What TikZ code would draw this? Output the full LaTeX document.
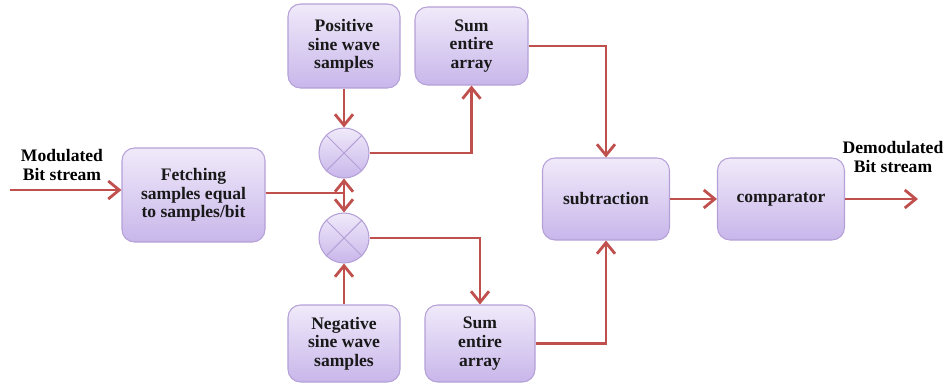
\documentclass[tikz,border=0pt]{standalone}
\usepackage{fontspec}
\setmainfont{Liberation Serif}
\usetikzlibrary{arrows.meta,positioning,calc}

\definecolor{boxtop}{RGB}{240,234,250}
\definecolor{boxbot}{RGB}{200,182,234}
\definecolor{boxline}{RGB}{180,160,215}
\definecolor{wire}{RGB}{192,80,77}

\begin{document}
\begin{tikzpicture}[font=\bfseries\fontsize{10}{10.6}\selectfont]
  \tikzstyle{block}=[draw=boxline, line width=0.6pt, rounded corners=0.25cm,
    top color=boxtop, bottom color=boxbot, align=center, text=black!90]
  \tikzstyle{mixer}=[draw=boxline, line width=0.6pt, circle, minimum size=1cm,
    top color=boxtop, bottom color=boxbot]
  \tikzstyle{wire}=[draw=wire, line width=1.6pt]
  \tikzstyle{flow}=[wire, -{Straight Barb[length=2.2mm,width=3.6mm]}]

  \useasboundingbox (0,0) rectangle (19.02,-7.7);

  \node[block, minimum width=2.86cm, minimum height=1.88cm] (fetch) at (3.87,-3.9)
    {Fetching\\samples equal\\to samples/bit};
  \node[block, minimum width=2.24cm, minimum height=1.68cm] (pos) at (6.88,-0.92)
    {Positive\\sine wave\\samples};
  \node[block, minimum width=2.26cm, minimum height=1.56cm] (sumA) at (9.43,-0.92)
    {Sum\\entire\\array};
  \node[mixer] (mixA) at (6.88,-3.06) {};
  \node[mixer] (mixB) at (6.88,-4.76) {};
  \node[block, minimum width=2.24cm, minimum height=1.54cm] (neg) at (6.88,-6.87)
    {Negative\\sine wave\\samples};
  \node[block, minimum width=2.2cm, minimum height=1.54cm] (sumB) at (9.6,-6.87)
    {Sum\\entire\\array};
  \node[block, minimum width=2.54cm, minimum height=1.64cm] (sub) at (12.12,-3.98)
    {subtraction};
  \node[block, minimum width=2.54cm, minimum height=1.64cm] (comp) at (15.62,-3.98)
    {comparator};

  % crosses in the mixers
  \draw[boxline, line width=0.6pt] (mixA.north west) -- (mixA.south east)
    (mixA.north east) -- (mixA.south west);
  \draw[boxline, line width=0.6pt] (mixB.north west) -- (mixB.south east)
    (mixB.north east) -- (mixB.south west);

  \coordinate (in) at (0.2,-3.8);
  \coordinate (out) at (18.36,-3.98);
  \coordinate (split) at (6.88,-3.86);

  \node[align=center] (inlbl) at (1.24,-3.3) {Modulated\\Bit stream};
  \node[align=center] (outlbl) at (17.86,-3.14) {Demodulated\\Bit stream};

  \path[flow] (in) -- (in -| fetch.west);
  \path[wire] (split -| fetch.east) -- (split);
  \path[flow] (split) -- (mixA.south);
  \path[flow] (split) -- (mixB.north);
  \path[flow] (pos) -- (mixA);
  \path[flow] (neg) -- (mixB);
  \path[flow] (mixA.east) -| (sumA.south);
  \path[flow] (mixB.east) -| (sumB.north);
  \path[flow] (sumA.east) -| (sub.north);
  \path[flow] (sumB.east) -| (sub.south);
  \path[flow] (sub) -- (comp);
  \path[flow] (comp) -- (out);
\end{tikzpicture}
\end{document}
